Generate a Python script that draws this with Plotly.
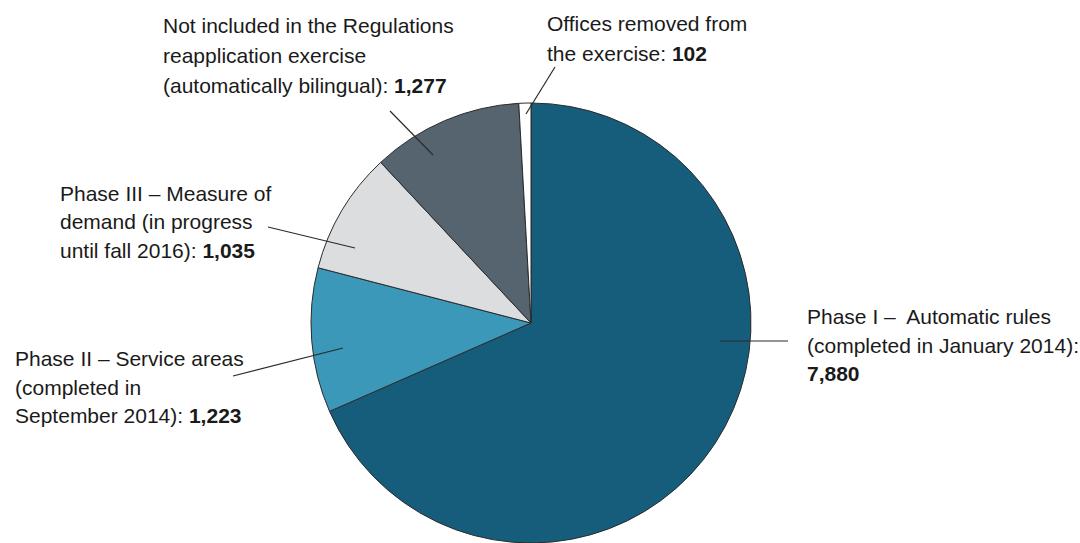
import plotly.graph_objects as go

# Offices by status of the Regulations reapplication exercise
categories = [
    "Phase I – Automatic rules",
    "Phase II – Service areas",
    "Phase III – Measure of demand",
    "Not included in the Regulations reapplication exercise",
    "Offices removed from the exercise",
]
values = [7880, 1223, 1035, 1277, 102]
colors = ["#165D7C", "#3B98B8", "#DCDDDF", "#56646F", "#FFFFFF"]

# Callout text lines; the bold value is appended to the last line
label_lines = [
    ["Phase I –  Automatic rules", "(completed in January 2014):", ""],
    ["Phase II – Service areas", "(completed in", "September 2014): "],
    ["Phase III – Measure of", "demand (in progress", "until fall 2016): "],
    ["Not included in the Regulations", "reapplication exercise", "(automatically bilingual): "],
    ["Offices removed from", "the exercise: "],
]

W, H = 1080, 543
FONT = "Liberation Sans, Arial, sans-serif"
SIZE = 21

fig = go.Figure(
    go.Pie(
        labels=categories,
        values=values,
        sort=False,
        direction="clockwise",
        rotation=0,
        marker=dict(colors=colors, line=dict(color="#2b2b2b", width=1)),
        textinfo="none",
        hoverinfo="label+value",
        domain=dict(x=[311 / W, 751 / W], y=[0, 1 - 103 / H]),
        showlegend=False,
    )
)

def px(x):
    return x / W

def py(y):
    return 1 - y / H

# label left edge, first baseline and line pitch, in pixels
label_pos = [(805, 323, 28.5), (13, 365, 28.5), (58, 200, 28.5), (161, 32, 30), (545, 30, 30)]
leaders = [
    ((720, 341), (788, 341)),
    ((343, 348), (233, 376)),
    ((355, 248), (268, 227)),
    ((433, 155), (390, 111)),
    ((526, 114), (555, 67)),
]

for lines, v, (lx, base, pitch) in zip(label_lines, values, label_pos):
    for i, line in enumerate(lines):
        text = line
        if i == len(lines) - 1:
            text = f"{line}<b>{v:,}</b>"
        fig.add_annotation(
            x=px(lx), y=py(base + i * pitch - 20), xref="paper", yref="paper",
            xanchor="left", yanchor="top", align="left",
            showarrow=False,
            text=text,
            font=dict(family=FONT, size=SIZE, color="#1a1a1a"),
        )

for (x0, y0), (x1, y1) in leaders:
    fig.add_shape(
        type="line", xref="paper", yref="paper",
        x0=px(x0), y0=py(y0), x1=px(x1), y1=py(y1),
        line=dict(color="#2b2b2b", width=1.2),
    )

fig.update_layout(
    width=W, height=H,
    margin=dict(l=0, r=0, t=0, b=0),
    paper_bgcolor="white",
    plot_bgcolor="white",
)

fig.write_html("out.html")
